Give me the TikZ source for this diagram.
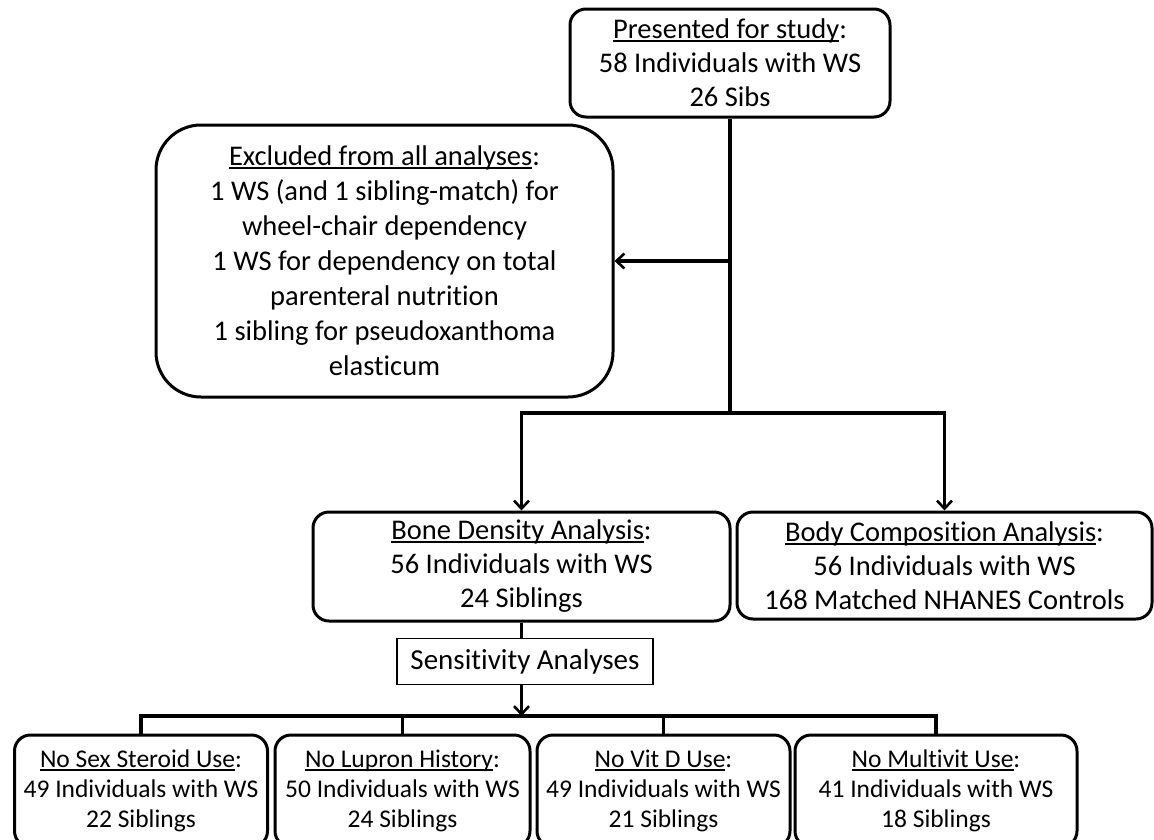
\documentclass[tikz,border=0pt]{standalone}
\usepackage{fontspec}
\setmainfont{Carlito}[Ligatures=NoCommon]
\usetikzlibrary{arrows.meta}

% underline the heading word(s), Word style
\newcommand{\ulc}[1]{\setbox0\hbox{#1}\rlap{\rule[-0.12em]{\wd0}{0.07em}}\box0}

\tikzset{
  flowbox/.style={draw, line width=3pt, rounded corners=16pt, align=center, inner sep=0pt, font=\fontsize{28.5}{34}\selectfont},
  subbox/.style={flowbox, font=\fontsize{25.5}{30}\selectfont},
  notebox/.style={draw, line width=1.2pt, align=center, inner sep=0pt, font=\fontsize{29}{34}\selectfont},
  link/.style={line width=3.2pt},
  >={Straight Barb[length=8pt,width=15pt,line width=2.6pt]}
}

\begin{document}
\begin{tikzpicture}[x=1pt, y=-1pt]
\useasboundingbox (0,0) rectangle (1154,839);

\node[flowbox, minimum width=320, minimum height=108] (present) at (730,63) {\ulc{Presented for study}:\\58 Individuals with WS\\26 Sibs};
\node[flowbox, rounded corners=45pt, minimum width=457, minimum height=272, font=\fontsize{28.5}{35}\selectfont] (excl) at (384.5,261) {\ulc{Excluded from all analyses}:\\1 WS (and 1 sibling-match) for\\wheel-chair dependency\\1 WS for dependency on total\\parenteral nutrition\\1 sibling for pseudoxanthoma\\elasticum};
\node[flowbox, minimum width=417, minimum height=109] (bone) at (521.5,566.5) {\ulc{Bone Density Analysis}:\\56 Individuals with WS\\24 Siblings};
\node[flowbox, minimum width=415, minimum height=107] (body) at (944.5,565.5) {\ulc{Body Composition Analysis}:\\56 Individuals with WS\\168 Matched NHANES Controls};
\node[notebox, minimum width=256, minimum height=46] (sens) at (525,661.5) {Sensitivity Analyses};

\node[subbox, minimum width=253, minimum height=112] (nosex) at (141,791) {\ulc{No Sex Steroid Use}:\\49 Individuals with WS\\22 Siblings};
\node[subbox, minimum width=255, minimum height=112] (nolupron) at (402.5,791) {\ulc{No Lupron History}:\\50 Individuals with WS\\24 Siblings};
\node[subbox, minimum width=253, minimum height=112] (novitd) at (663.5,791) {\ulc{No Vit D Use}:\\49 Individuals with WS\\21 Siblings};
\node[subbox, minimum width=282, minimum height=112] (nomulti) at (936,791) {\ulc{No Multivit Use}:\\41 Individuals with WS\\18 Siblings};

\coordinate (split) at (730,413);
\coordinate (side) at (730,261);
\coordinate (fork) at (521.5,716);

\draw[link] (present.south) -- (split);
\draw[link, ->] (side) -- (excl.east);
\draw[link, ->] (split) -| (bone.north);
\draw[link, ->] (split) -| (body.north);
\draw[link] (bone.south) -- (bone.south |- sens.north);
\draw[link, ->] (bone.south |- sens.south) -- (fork);
\draw[link] (nosex.north) -- (nosex.north |- fork) -| (nomulti.north);
\draw[link] (nolupron.north) -- (nolupron.north |- fork);
\draw[link] (novitd.north) -- (novitd.north |- fork);
\end{tikzpicture}
\end{document}
